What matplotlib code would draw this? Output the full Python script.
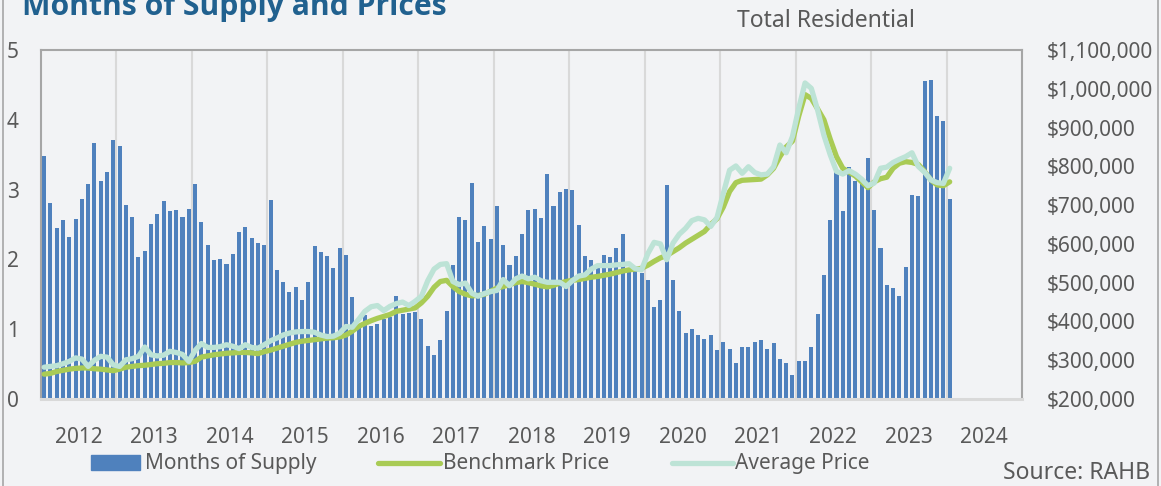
import numpy as np
import matplotlib
matplotlib.use("Agg")
import matplotlib.pyplot as plt
from matplotlib.ticker import FuncFormatter, FixedLocator
from matplotlib.patches import Rectangle
from matplotlib.lines import Line2D

plt.rcParams['font.family'] = ['Noto Sans', 'DejaVu Sans']

years = [str(y) for y in range(2012, 2025)]

months_of_supply = [
    3.48, 2.81, 2.45, 2.57, 2.32, 2.58, 2.86, 3.08, 3.67, 3.12, 3.25, 3.71,
    3.62, 2.78, 2.61, 2.04, 2.12, 2.51, 2.65, 2.83, 2.70, 2.71, 2.61, 2.72,
    3.08, 2.53, 2.21, 1.99, 2.00, 1.94, 2.08, 2.39, 2.47, 2.30, 2.24, 2.21,
    2.85, 1.85, 1.68, 1.54, 1.60, 1.42, 1.67, 2.19, 2.11, 2.05, 1.88, 2.16,
    2.07, 1.46, 1.05, 1.20, 1.05, 1.08, 1.15, 1.18, 1.47, 1.22, 1.23, 1.25,
    1.14, 0.76, 0.63, 0.84, 1.26, 1.92, 2.61, 2.57, 3.10, 2.25, 2.48, 2.29,
    2.76, 2.21, 1.92, 2.05, 2.37, 2.71, 2.72, 2.59, 3.22, 2.77, 2.97, 3.01,
    2.99, 2.49, 2.05, 1.99, 1.90, 2.07, 2.03, 2.16, 2.37, 1.85, 1.85, 1.80,
    1.71, 1.32, 1.42, 3.06, 1.71, 1.26, 0.95, 1.00, 0.92, 0.86, 0.92, 0.70,
    0.82, 0.72, 0.52, 0.75, 0.75, 0.82, 0.85, 0.72, 0.80, 0.58, 0.51, 0.35,
    0.54, 0.54, 0.75, 1.22, 1.77, 2.57, 3.27, 2.69, 3.33, 3.13, 3.08, 3.45,
    2.71, 2.16, 1.64, 1.59, 1.47, 1.89, 2.92, 2.91, 4.55, 4.57, 4.06, 3.98,
    2.87,
]

benchmark_price_k = [
    264, 266, 271, 274, 277, 279, 280, 280, 278, 277, 275, 273,
    277, 282, 284, 286, 287, 289, 291, 292, 294, 294, 293, 294,
    297, 308, 311, 314, 316, 318, 319, 320, 320, 319, 317, 322,
    326, 331, 336, 341, 346, 349, 351, 353, 355, 357, 358, 360,
    365, 375, 387, 395, 402, 408, 413, 418, 426, 429, 432, 435,
    448, 465, 488, 503, 506, 490, 477, 470, 466, 467, 470, 478,
    486, 490, 495, 500, 503, 500, 496, 492, 489, 493, 499, 503,
    506, 508, 511, 514, 516, 519, 522, 526, 530, 533, 535, 537,
    545, 555, 564, 570, 580, 590, 602, 612, 622, 632, 650, 665,
    695, 735, 758, 764, 765, 766, 767, 778, 795, 825, 850, 865,
    930, 985, 975, 948, 920, 870, 825, 795, 785, 775, 760, 745,
    760, 768, 772, 795, 808, 812, 810, 805, 787, 765, 752, 750,
    760,
]

average_price_k = [
    282, 284, 286, 291, 297, 306, 303, 284, 300, 310, 308, 288,
    284, 301, 304, 310, 334, 314, 311, 313, 323, 320, 315, 297,
    325, 343, 333, 333, 335, 340, 336, 330, 340, 333, 331, 340,
    350, 357, 365, 370, 373, 374, 374, 372, 365, 361, 362, 370,
    387, 385, 405, 426, 438, 441, 428, 439, 446, 450, 441, 452,
    465, 505, 535, 547, 549, 503, 495, 499, 473, 465, 472, 477,
    480, 508, 492, 510, 517, 510, 514, 505, 501, 501, 501, 490,
    505, 517, 520, 535, 544, 544, 544, 546, 547, 549, 536, 533,
    575, 604, 600, 559, 602, 625, 640, 660, 666, 662, 645, 668,
    730, 790, 801, 782, 799, 784, 778, 780, 799, 855, 835, 877,
    950, 1015, 1001, 945, 880, 830, 787, 780, 789, 780, 767, 750,
    757, 795, 798, 810, 818, 825, 835, 800, 785, 765, 758, 756,
    795,
]

BG = '#F2F3F5'
TXT = '#595959'
W, H = 1161, 486
fig = plt.figure(figsize=(W / 100, H / 100), dpi=100, facecolor=BG)

x0, x1, y0, y1 = 41, 1022, 50, 399
ax = fig.add_axes([x0 / W, 1 - y1 / H, (x1 - x0) / W, (y1 - y0) / H])
ax.set_facecolor(BG)

n = len(months_of_supply)
xs = np.arange(n)
ax.bar(xs, months_of_supply, width=0.64, color='#4F81BD', zorder=2)
ax.set_xlim(-0.5, len(years) * 12 - 0.5)
ax.set_ylim(0, 5)
ax.set_yticks(range(0, 6))

bounds = [-0.5 + 12 * k for k in range(len(years) + 1)]
for b in bounds[1:-1]:
    ax.axvline(b, color='#D9D9D9', lw=1.5, zorder=1)
ax.xaxis.set_major_locator(FixedLocator([5.5 + 12 * k for k in range(len(years))]))
ax.set_xticklabels(years)

for s in ['top', 'left', 'right']:
    ax.spines[s].set_color('#A6A6A6')
    ax.spines[s].set_linewidth(1.5)
ax.spines['bottom'].set_color('#D9D9D9')
ax.spines['bottom'].set_linewidth(2.2)

ax.tick_params(axis='x', length=0, pad=20, labelsize=15, labelcolor=TXT)
ax.tick_params(axis='y', length=0, pad=16, labelsize=15, labelcolor=TXT)

ax2 = ax.twinx()
ax2.plot(xs, np.array(benchmark_price_k) * 1000, color='#A9CB55', lw=3.8,
         solid_capstyle='round', solid_joinstyle='round', zorder=3)
ax2.plot(xs, np.array(average_price_k) * 1000, color='#BDE3D6', lw=3.8,
         solid_capstyle='round', solid_joinstyle='round', zorder=4)
ax2.set_ylim(200000, 1100000)
ax2.set_yticks(range(200000, 1100001, 100000))
ax2.yaxis.set_major_formatter(FuncFormatter(lambda v, p: '${:,.0f}'.format(v)))
ax2.tick_params(axis='y', length=0, pad=18, labelsize=15, labelcolor=TXT)
for s in ax2.spines.values():
    s.set_visible(False)

# Titles
fig.text(22 / W, 1 - 15 / H, 'Months of Supply and Prices', fontsize=21.7,
         fontweight='bold', family=['Open Sans', 'DejaVu Sans'],
         color='#21618F', ha='left', va='baseline')
fig.text(826 / W, 1 - 27 / H, 'Total Residential', fontsize=16.5,
         color=TXT, ha='center', va='baseline')
fig.text(1150 / W, 1 - 479 / H, 'Source: RAHB', fontsize=16.5,
         color=TXT, ha='right', va='baseline')

# Legend (manual)
ly = 1 - 463 / H
fig.patches.append(Rectangle((91 / W, 1 - 470 / H), 49 / W, 15 / H,
                             transform=fig.transFigure, color='#4F81BD'))
fig.text(145 / W, ly, 'Months of Supply', fontsize=15, color=TXT, ha='left', va='center')
fig.lines.append(Line2D([378 / W, 440 / W], [ly, ly], transform=fig.transFigure,
                        color='#A9CB55', lw=3.8, solid_capstyle='round'))
fig.text(443 / W, ly, 'Benchmark Price', fontsize=15, color=TXT, ha='left', va='center')
fig.lines.append(Line2D([672 / W, 733 / W], [ly, ly], transform=fig.transFigure,
                        color='#BDE3D6', lw=3.8, solid_capstyle='round'))
fig.text(735 / W, ly, 'Average Price', fontsize=15, color=TXT, ha='left', va='center')

# Outer frame edges
fig.lines.append(Line2D([2.5 / W, 2.5 / W], [0, 1], transform=fig.transFigure,
                        color='#A6A6A6', lw=1.2))
fig.lines.append(Line2D([1157.5 / W, 1157.5 / W], [0, 1], transform=fig.transFigure,
                        color='#A6A6A6', lw=1.2))

fig.savefig('out.png', dpi=100, facecolor=BG)
